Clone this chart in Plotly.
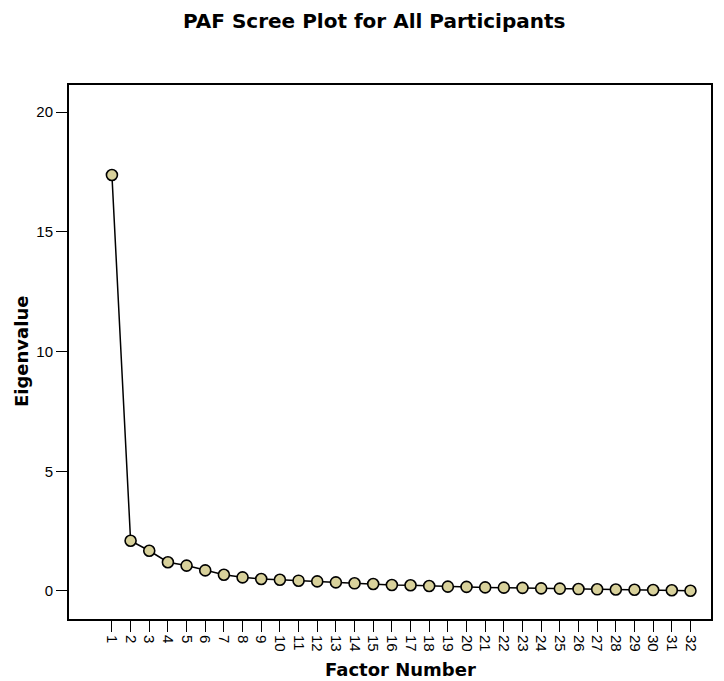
import plotly.graph_objects as go

factor_number = list(range(1, 33))
eigenvalues = [17.37, 2.10, 1.68, 1.20, 1.06, 0.86, 0.68, 0.57, 0.50, 0.47,
               0.43, 0.40, 0.36, 0.32, 0.29, 0.25, 0.24, 0.21, 0.18, 0.17,
               0.15, 0.14, 0.13, 0.11, 0.10, 0.08, 0.07, 0.06, 0.05, 0.04,
               0.03, 0.01]
y_ticks = [0, 5, 10, 15, 20]

fig = go.Figure()
fig.add_trace(go.Scatter(
    x=factor_number, y=eigenvalues, mode="lines+markers",
    line=dict(color="black", width=1.5),
    marker=dict(size=11, color="#d8d19b", line=dict(color="black", width=1.6)),
    showlegend=False, cliponaxis=False,
))

tick_font = "Liberation Sans, Arial, sans-serif"
title_font = "DejaVu Sans, Verdana, sans-serif"
W, H = 724, 681
fig.update_layout(
    width=W, height=H,
    margin=dict(l=69, r=13, t=85, b=62),
    paper_bgcolor="white", plot_bgcolor="white",
    font=dict(family=tick_font, color="black", size=15),
    annotations=[
        dict(text="<b>PAF Scree Plot for All Participants</b>",
             xref="paper", yref="paper",
             x=(374 - 69) / 642, y=1 + (85 - 21) / 534,
             xanchor="center", yanchor="middle", showarrow=False,
             font=dict(size=20, family=title_font, color="black")),
        dict(text="<b>Factor Number</b>",
             xref="paper", yref="paper",
             x=(401 - 69) / 642, y=-(669 - 619) / 534,
             xanchor="center", yanchor="middle", showarrow=False,
             font=dict(size=18, family=title_font, color="black")),
        dict(text="<b>Eigenvalue</b>", textangle=-90,
             xref="paper", yref="paper",
             x=-(69 - 21) / 642, y=0.5,
             xanchor="center", yanchor="middle", showarrow=False,
             font=dict(size=18, family=title_font, color="black")),
    ],
)
fig.update_xaxes(
    range=[-1.3, 33.1], tickmode="array", tickvals=factor_number,
    ticktext=[str(v) for v in factor_number], tickangle=90,
    ticks="outside", ticklen=11, tickwidth=1, tickcolor="black",
    showline=True, linecolor="black", linewidth=2, mirror=True,
    showgrid=False, zeroline=False,
    tickfont=dict(size=15),
)
fig.update_yaxes(
    range=[-1.17, 21.13], tickmode="array", tickvals=y_ticks,
    ticks="outside", ticklen=11, tickwidth=1, tickcolor="black",
    showline=True, linecolor="black", linewidth=2, mirror=True,
    showgrid=False, zeroline=False,
    tickfont=dict(size=15),
)

fig.write_html("out.html")
